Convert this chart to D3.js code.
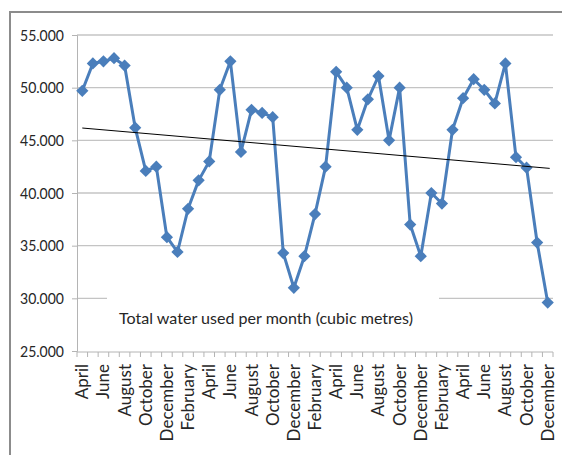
<!DOCTYPE html>
<html>
<head>
<meta charset="utf-8">
<script src="https://cdn.jsdelivr.net/npm/d3@7.9.0/dist/d3.min.js"></script>
<style>
  body { margin: 0; background: #fff; }
  text { font-family: Lato, "Open Sans", sans-serif; fill: #262626; }
</style>
</head>
<body>
<svg id="chart" width="562" height="455"></svg>
<script>
// one point per month, April through December three years later
const months = [
  'April', 'May', 'June', 'July', 'August', 'September', 'October', 'November', 'December',
  'January', 'February', 'March', 'April', 'May', 'June', 'July', 'August', 'September',
  'October', 'November', 'December', 'January', 'February', 'March', 'April', 'May', 'June',
  'July', 'August', 'September', 'October', 'November', 'December', 'January', 'February',
  'March', 'April', 'May', 'June', 'July', 'August', 'September', 'October', 'November', 'December'
];

// total water used per month (thousand cubic metres)
const waterUsed = [
  49.7, 52.3, 52.5, 52.8, 52.1, 46.2, 42.1, 42.5, 35.8,
  34.4, 38.5, 41.2, 43.0, 49.8, 52.5, 43.9, 47.9, 47.6,
  47.2, 34.3, 31.0, 34.0, 38.0, 42.5, 51.5, 50.0, 46.0,
  48.9, 51.1, 45.0, 50.0, 37.0, 34.0, 40.0, 39.0,
  46.0, 49.0, 50.8, 49.8, 48.5, 52.3, 43.4, 42.4, 35.3, 29.6
];

const yTicks = [25, 30, 35, 40, 45, 50, 55];
const legendLabel = 'Total water used per month (cubic metres)';

const blue = '#4a7ebb';
const svg = d3.select('#chart');

// outer chart frame (only top and left edges show)
svg.append('path')
  .attr('d', 'M10,455V12H562')
  .attr('fill', 'none')
  .attr('stroke', '#8c8c8c')
  .attr('stroke-width', 2);

const idx = d3.range(months.length);

let x = d3.scaleBand().domain(idx).range([77, 553]);
let y = d3.scaleLinear().domain([25, 55]).range([351, 35]);
let cx = (i) => x(i) + x.bandwidth() / 2;

// gridlines
svg.append('g')
  .selectAll('line')
  .data(yTicks.slice(1))
  .join('line')
  .attr('x1', 77).attr('x2', 553)
  .attr('y1', (d) => y(d)).attr('y2', (d) => y(d))
  .attr('stroke', '#c4c4c4')
  .attr('stroke-width', 1.3);

// y axis
let yAxis = svg.append('g')
  .attr('transform', 'translate(77,0)')
  .call(d3.axisLeft(y).tickValues(yTicks).tickSize(5).tickFormat(d3.format('.3f')));
yAxis.select('.domain').attr('stroke', '#b4b4b4');
yAxis.selectAll('.tick line').attr('stroke', '#b4b4b4');
yAxis.selectAll('text')
  .attr('x', -13)
  .attr('font-size', 16)
  .attr('fill', '#262626')
  .attr('textLength', 44)
  .attr('lengthAdjust', 'spacingAndGlyphs');

// x axis: ticks on category boundaries, labels on every other month
let xAxis = svg.append('g').attr('transform', 'translate(0,352)');
xAxis.append('line')
  .attr('x1', 77).attr('x2', 553)
  .attr('stroke', '#b4b4b4');
xAxis.selectAll('line.tick')
  .data(d3.range(months.length + 1))
  .join('line')
  .attr('class', 'tick')
  .attr('x1', (i) => 77 + i * x.step())
  .attr('x2', (i) => 77 + i * x.step())
  .attr('y1', 0).attr('y2', 5)
  .attr('stroke', '#b4b4b4');
xAxis.selectAll('text')
  .data(idx.filter((i) => i % 2 === 0))
  .join('text')
  .attr('transform', (i) => `translate(${cx(i) + 6},12) rotate(-90)`)
  .attr('text-anchor', 'end')
  .attr('font-size', 17)
  .text((i) => months[i]);

// legend box covers the gridline behind it
svg.append('rect')
  .attr('x', 107).attr('y', 293)
  .attr('width', 332).attr('height', 52)
  .attr('fill', '#fff');
svg.append('text')
  .attr('x', 119).attr('y', 324)
  .attr('font-size', 16)
  .attr('textLength', 294)
  .attr('lengthAdjust', 'spacingAndGlyphs')
  .text(legendLabel);

// series line and diamond markers
svg.append('path')
  .datum(waterUsed)
  .attr('fill', 'none')
  .attr('stroke', blue)
  .attr('stroke-width', 3)
  .attr('stroke-linejoin', 'round')
  .attr('d', d3.line().x((d, i) => cx(i)).y((d) => y(d)));

svg.append('g')
  .selectAll('path')
  .data(waterUsed)
  .join('path')
  .attr('transform', (d, i) => `translate(${cx(i)},${y(d)}) rotate(45)`)
  .attr('d', d3.symbol(d3.symbolSquare, 75)())
  .attr('fill', blue);

// linear trendline fitted over the months
let meanX = d3.mean(idx);
let meanY = d3.mean(waterUsed);
let slope = d3.sum(idx, (i) => (i - meanX) * (waterUsed[i] - meanY)) /
  d3.sum(idx, (i) => (i - meanX) ** 2);
let fit = (i) => meanY + slope * (i - meanX);
let ends = [0, months.length - 1];

svg.append('line')
  .attr('x1', cx(ends[0])).attr('y1', y(fit(ends[0])))
  .attr('x2', cx(ends[1]) + 2).attr('y2', y(fit(ends[1])))
  .attr('stroke', '#000')
  .attr('stroke-width', 1);
</script>
</body>
</html>
